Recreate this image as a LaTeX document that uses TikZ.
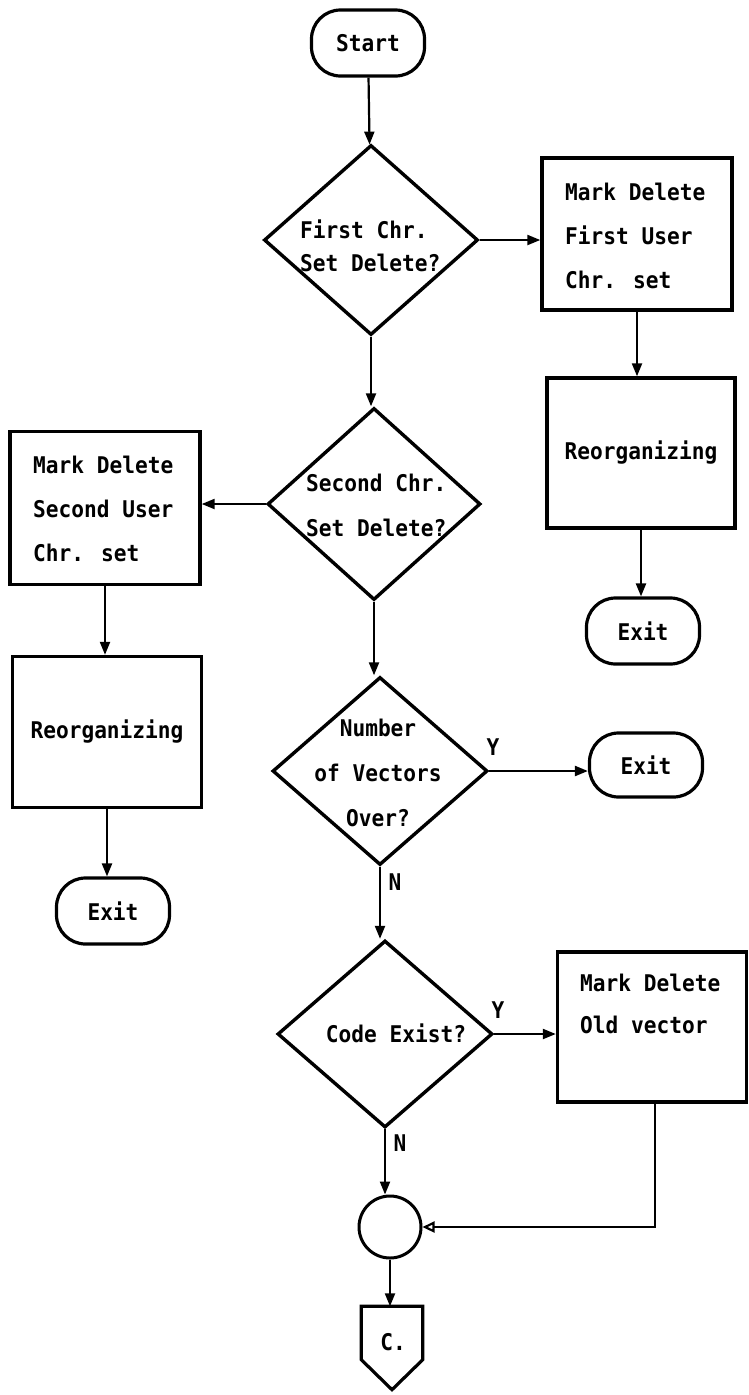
\documentclass[tikz,border=0pt]{standalone}
\usepackage{fontspec}
\newfontfamily\fcfont[FakeStretch=0.92]{DejaVu Sans Mono Bold}
\usetikzlibrary{shapes.geometric,arrows.meta}
\newcommand{\fcsize}[1]{\fcfont\fontsize{23}{#1}\selectfont}
\begin{document}
\begin{tikzpicture}[x=1pt,y=-1pt,
  every node/.style={font=\fcsize{44}, inner sep=0pt},
  procbox/.style={draw, line width=3.4pt, rectangle, minimum width=189pt, minimum height=151pt},
  decision/.style={draw, line width=3.4pt, diamond, minimum width=214pt, minimum height=190pt},
  term/.style={draw, line width=3.2pt, rounded corners=29pt, minimum width=113pt, minimum height=66pt},
  joint/.style={draw, line width=3pt, circle, minimum size=62pt},
  lefttext/.style={align=left, anchor=west},
  yn/.style={font=\fcsize{23}},
  flow/.style={line width=2.2pt, -{Triangle[length=13pt,width=10pt]}},
  openflow/.style={line width=2.2pt, -{Triangle[open,length=12pt,width=11pt]}}]
\useasboundingbox (0,0) rectangle (749,1395);

% main column
\node[term] (start) at (368,43) {Start};
\node[decision] (d1) at (371,240) {};
\node[lefttext, font=\fcsize{33}] (t1) at (300,246) {First Chr.\\Set Delete?};

\node[decision, minimum width=213pt, minimum height=192pt] (d2) at (374,504) {};
\node[lefttext, font=\fcsize{45}] (t2) at (306,505) {Second Chr.\\Set Delete?};

\node[decision, minimum width=215pt, minimum height=188pt] (d3) at (380,771) {};
\node[align=center, font=\fcsize{45}] (t3) at (378,773) {Number\\of Vectors\\Over?};

\node[decision, minimum width=215pt, minimum height=187pt] (d4) at (385,1034) {};
\node (t4) at (396,1033) {Code Exist?};

\node[joint] (cj) at (390,1227) {};
\node[minimum width=61pt, minimum height=83pt] (cc) at (392,1348) {};
\draw[line width=3.2pt, line join=miter]
  (cc.north west) -- (cc.north east) -- ([yshift=30pt]cc.south east)
  -- (cc.south) -- ([yshift=30pt]cc.south west) -- cycle;
\node (tc) at (393,1342) {C.};

% right branch of the first decision
\node[procbox, minimum width=190pt, minimum height=152pt] (b1) at (637,234) {};
\node[lefttext] (tb1) at (565,236) {Mark Delete\\First User\\Chr. set};
\node[procbox, minimum width=188pt, minimum height=150pt] (b2) at (641,453) {Reorganizing};
\node[term] (e1) at (643,631) {Exit};

% left branch of the second decision
\node[procbox, minimum width=190pt, minimum height=153pt] (b3) at (105,508) {};
\node[lefttext] (tb3) at (33,509) {Mark Delete\\Second User\\Chr. set};
\node[procbox] (b4) at (107,732) {Reorganizing};
\node[term] (e2) at (113,911) {Exit};

% exits of the lower decisions
\node[term, minimum height=64pt] (e3) at (646,765) {Exit};
\node[procbox, minimum width=189pt, minimum height=150pt] (b5) at (652,1027) {};
\node[lefttext, font=\fcsize{42}] (tb5) at (580,1004) {Mark Delete\\Old vector};

% connectors
\draw[flow] (start) -- (d1);
\draw[flow] (d1.east) -- (b1.west |- d1.east);
\draw[flow] (b1.south) -- (b1.south |- b2.north);
\draw[flow] (b2.south) -- (b2.south |- e1.north);
\draw[flow] (d1.south) -- (d1.south |- d2.north);
\draw[flow] (d2.west) -- (b3.east |- d2.west);
\draw[flow] (b3.south) -- (b3.south |- b4.north);
\draw[flow] (b4.south) -- (b4.south |- e2.north);
\draw[flow] (d2.south) -- (d2.south |- d3.north);
\draw[flow] (d3.east) -- (e3.west |- d3.east);
\draw[flow] (d3.south) -- (d3.south |- d4.north);
\draw[flow] (d4.east) -- (b5.west |- d4.east);
\draw[flow] (d4.south) -- (d4.south |- cj.north);
\draw[openflow] ([xshift=3pt]b5.south) |- (cj.east);
\draw[flow] (cj.south) -- (cj.south |- cc.north);

% branch labels
\node[yn] (y3) at (493,747) {Y};
\node[yn] (n3) at (395,882) {N};
\node[yn] (y4) at (498,1010) {Y};
\node[yn] (n4) at (400,1143) {N};
\end{tikzpicture}
\end{document}
